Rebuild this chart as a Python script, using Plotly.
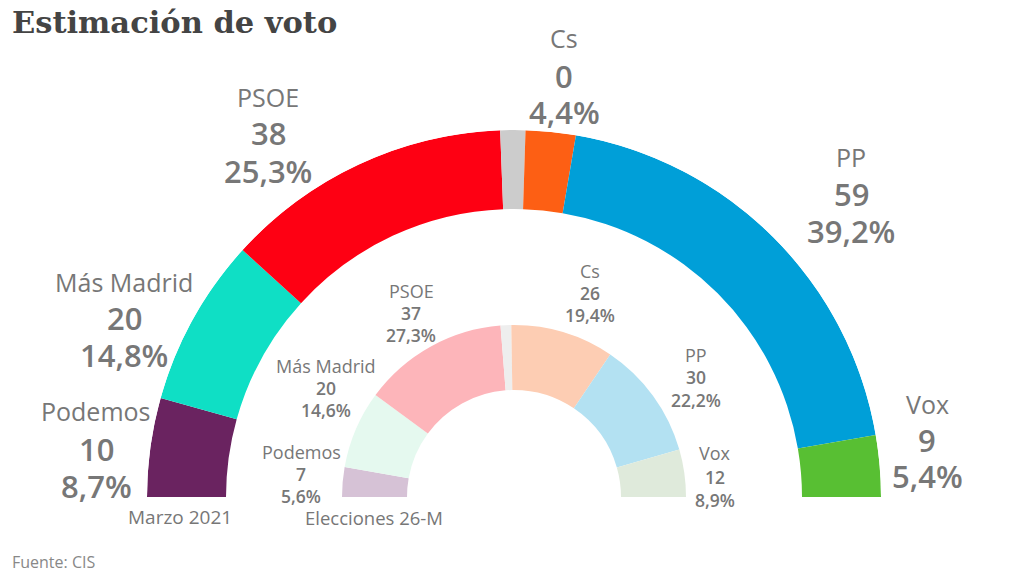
import plotly.graph_objects as go

# ---------------- data ----------------
parties = ["Podemos", "Más Madrid", "PSOE", "Otros", "Cs", "PP", "Vox"]

seats_2021 = [10, 20, 38, None, 0, 59, 9]
pct_2021 = [8.7, 14.8, 25.3, 2.2, 4.4, 39.2, 5.4]

seats_2019 = [7, 20, 37, None, 26, 30, 12]
pct_2019 = [5.6, 14.6, 27.3, 2.0, 19.4, 22.2, 8.9]

colors_2021 = ["#6a2360", "#0fdfc5", "#fe0013", "#cccccc", "#fd5f14", "#009fd8", "#58bf33"]
colors_2019 = ["#d6c2d6", "#e5f9ef", "#fdb5ba", "#eeeeee", "#fdcdb3", "#b3e1f2", "#dfeadb"]

ring_label_2021 = "Marzo 2021"
ring_label_2019 = "Elecciones 26-M"

# ---------------- layout helpers ----------------
W, H = 1024, 576
CX, CY, R_OUT = 514, 497, 367      # centre / outer radius in px
OUT_RING = (288, 367)
IN_RING = (107, 172)


def fmt(v):
    return f"{v:.1f}".replace(".", ",") + "%"


def ring(pcts, colors, r0, r1, name):
    thetas, widths = [], []
    cum = 0.0
    for p in pcts:
        thetas.append((cum + p / 2) * 1.8)
        widths.append(p * 1.8)
        cum += p
    return go.Barpolar(
        r=[r1 - r0] * len(pcts), base=[r0] * len(pcts), theta=thetas, width=widths,
        marker=dict(color=colors, line=dict(width=0)), name=name,
        hoverinfo="skip", showlegend=False,
    )


fig = go.Figure()
fig.add_trace(ring(pct_2021, colors_2021, *OUT_RING, ring_label_2021))
fig.add_trace(ring(pct_2019, colors_2019, *IN_RING, ring_label_2019))

fig.update_layout(
    width=W, height=H,
    margin=dict(l=0, r=0, t=0, b=0),
    paper_bgcolor="white",
    polar=dict(
        domain=dict(x=[(CX - R_OUT) / W, (CX + R_OUT) / W],
                    y=[(H - CY) / H, (H - CY + R_OUT) / H]),
        sector=[0, 180],
        bgcolor="rgba(0,0,0,0)",
        radialaxis=dict(range=[0, R_OUT], visible=False),
        angularaxis=dict(visible=False, rotation=180, direction="clockwise",
                         thetaunit="degrees"),
        bargap=0,
    ),
)

FONT = "Open Sans"
GREY = "#777777"


def txt(x, y, s, size, weight=400, color=GREY, xanchor="center", family=FONT):
    fig.add_annotation(
        x=x / W, y=1 - y / H, xref="paper", yref="paper",
        text=s, showarrow=False,
        xanchor=xanchor, yanchor="middle",
        font=dict(family=family, size=size, color=color, weight=weight),
    )


# outer labels: (x, y_name, y_seats, y_pct)
outer_pos = {
    "Podemos": (96, 411, 449, 486),
    "Más Madrid": (124, 282, 318, 355),
    "PSOE": (268, 97, 133, 171),
    "Cs": (564, 38, 76, 112),
    "PP": (851, 157, 194, 231),
    "Vox": (927, 404, 440, 476),
}
inner_pos = {
    "Podemos": (301, 452, 474, 496),
    "Más Madrid": (326, 366, 388, 410),
    "PSOE": (411, 291, 313, 335),
    "Cs": (590, 271, 293, 315),
    "PP": (696, 355, 377, 400),
    "Vox": (715, 453, 477, 500),
}

for i, p in enumerate(parties):
    if p in outer_pos:
        x, y1, y2, y3 = outer_pos[p]
        txt(x, y1, p, 25)
        txt(x, y2, str(seats_2021[i]), 31, weight=600)
        txt(x, y3, fmt(pct_2021[i]), 31, weight=600)
    if p in inner_pos:
        x, y1, y2, y3 = inner_pos[p]
        txt(x, y1, p, 18)
        txt(x, y2, str(seats_2019[i]), 17.5, weight=600)
        txt(x, y3, fmt(pct_2019[i]), 17.5, weight=600)

txt(180, 517, ring_label_2021, 19)
txt(374, 517, ring_label_2019, 18.5)

txt(10, 22, "Estimación de voto", 30.5, weight=700, color="#444444", xanchor="left",
    family="DejaVu Serif")
txt(10, 562, "Fuente: CIS", 16, color="#888888", xanchor="left")

fig.write_html("out.html", config={"displayModeBar": False},
               post_script="document.body.style.margin='0px';")
